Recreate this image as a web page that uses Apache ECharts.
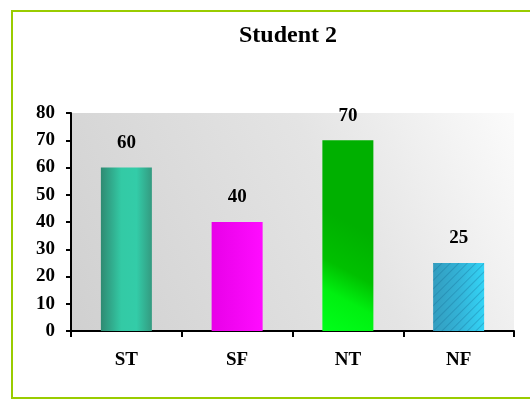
<!DOCTYPE html>
<html>
<head>
<meta charset="utf-8">
<script src="https://cdn.jsdelivr.net/npm/echarts@6/dist/echarts.min.js"></script>
<style>
  html, body { margin: 0; padding: 0; background: #fff; }
  #main { width: 530px; height: 401px; }
</style>
</head>
<body>
<div id="main"></div>
<script>
var categories = ['ST', 'SF', 'NT', 'NF']
var values = [60, 40, 70, 25]
var yTicks = [0, 10, 20, 30, 40, 50, 60, 70, 80]

var serif = '"Liberation Serif", "DejaVu Serif", serif'

function grad (x, y, x2, y2, stops) {
  return new echarts.graphic.LinearGradient(x, y, x2, y2, stops)
}

var barColors = [
  grad(0, 0, 1, 0, [
    { offset: 0, color: '#2f8a72' },
    { offset: 0.4, color: '#33caa5' },
    { offset: 0.7, color: '#33cca8' },
    { offset: 1, color: '#349a80' }
  ]),
  grad(0, 0, 1, 0, [
    { offset: 0, color: '#e800e8' },
    { offset: 1, color: '#ff0cff' }
  ]),
  grad(0, 1, 1, 0.5, [
    { offset: 0, color: '#00ff1a' },
    { offset: 0.35, color: '#00f010' },
    { offset: 0.6, color: '#00c000' },
    { offset: 1, color: '#00b000' }
  ]),
  grad(0, 0, 1, 0, [
    { offset: 0, color: '#339dbf' },
    { offset: 0.5, color: '#33b2d6' },
    { offset: 1, color: '#33d4f6' }
  ])
]

var nfDecal = {
  symbol: 'rect',
  symbolSize: 1,
  dashArrayX: [1, 0],
  dashArrayY: [1, 5],
  rotation: -Math.PI / 4,
  color: 'rgba(20, 110, 150, 0.35)'
}

var chart = echarts.init(document.getElementById('main'))

chart.setOption({
  animation: false,
  title: {
    text: 'Student 2',
    left: 283,
    top: 19,
    textAlign: 'center',
    textStyle: {
      fontFamily: serif,
      fontWeight: 'bold',
      fontSize: 24,
      color: '#000'
    }
  },
  graphic: [
    {
      type: 'rect',
      shape: { x: 12, y: 11, width: 600, height: 387 },
      style: { fill: 'none', stroke: '#99cc00', lineWidth: 2 },
      z: -1
    }
  ],
  grid: {
    left: 71,
    right: 16,
    top: 113,
    bottom: 70,
    show: true,
    borderWidth: 0,
    backgroundColor: grad(0, 1, 1, 0, [
      { offset: 0, color: '#d0d0d0' },
      { offset: 0.6, color: '#e4e4e4' },
      { offset: 1, color: '#fbfbfb' }
    ])
  },
  xAxis: {
    type: 'category',
    data: categories,
    axisLine: { lineStyle: { color: '#000', width: 2 } },
    axisTick: { show: true, length: 6, lineStyle: { color: '#000', width: 2 } },
    axisLabel: {
      margin: 20,
      fontFamily: serif,
      fontWeight: 'bold',
      fontSize: 19,
      color: '#000'
    }
  },
  yAxis: {
    type: 'value',
    min: yTicks[0],
    max: yTicks[yTicks.length - 1],
    interval: 10,
    splitLine: { show: false },
    axisLine: { show: true, lineStyle: { color: '#000', width: 2 } },
    axisTick: { show: true, length: 5, lineStyle: { color: '#000', width: 2 } },
    axisLabel: {
      margin: 16,
      fontFamily: serif,
      fontWeight: 'bold',
      fontSize: 19,
      color: '#000'
    }
  },
  series: [
    {
      type: 'bar',
      barWidth: 51,
      data: values.map(function (v, i) {
        var style = { color: barColors[i] }
        if (i === 3) style.decal = nfDecal
        return { value: v, itemStyle: style }
      }),
      label: {
        show: true,
        position: 'top',
        distance: 15,
        fontFamily: serif,
        fontWeight: 'bold',
        fontSize: 19,
        color: '#000'
      }
    }
  ]
})
</script>
</body>
</html>
